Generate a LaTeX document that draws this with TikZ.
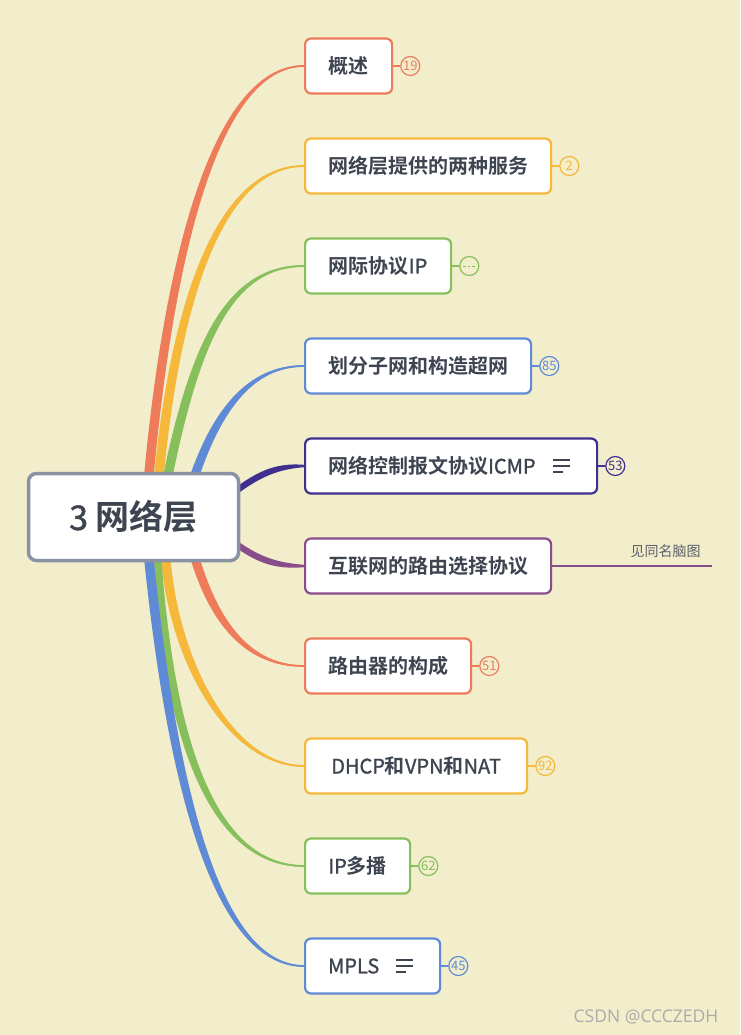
\documentclass[tikz,border=0pt]{standalone}
\usepackage{fontspec}
\setmainfont{Noto Sans CJK SC}[BoldFont={Noto Sans CJK SC Bold}]
\newfontfamily\latfont{Noto Sans CJK SC}[FakeBold=1.2]
\newfontfamily\markfont{Open Sans}
\usepackage{tikz}
\usetikzlibrary{positioning,calc}

\definecolor{bg}{HTML}{F2EDCB}
\definecolor{ink}{HTML}{3E4450}
\definecolor{hubline}{HTML}{8A93A3}
\definecolor{c-orange}{HTML}{EE7C5B}
\definecolor{c-yellow}{HTML}{F5B83A}
\definecolor{c-green}{HTML}{86BF5C}
\definecolor{c-blue}{HTML}{5F8AD5}
\definecolor{c-navy}{HTML}{3F2F8F}
\definecolor{c-plum}{HTML}{8A4D8C}

\newcommand{\lat}[1]{{\latfont\mdseries #1}}

\pgfdeclarelayer{back}
\pgfsetlayers{back,main}

% tapered branch: colour, root offset, end offset, root, c1, c2, target
\newcommand{\branch}[7]{%
	\fill[#1] ($(#4)-(#2)$) .. controls ($(#5)-(#2)$) and ($(#6)-0.6*(#2)-(#3)$) .. ($(#7)-(#3)$)
		-- ($(#7)+(#3)$) .. controls ($(#6)+0.6*(#2)+(#3)$) and ($(#5)+(#2)$) .. ($(#4)+(#2)$) -- cycle;
	\draw[#1, line width=1.3] (#4) .. controls (#5) and (#6) .. (#7);}

\begin{document}
\begin{tikzpicture}[x=1pt, y=-1pt,
		topic/.style={draw, line width=2.2, rounded corners=6, fill=white, text=ink, font=\bfseries\fontsize{20}{24}\selectfont, minimum height=55, inner xsep=23, inner ysep=0, anchor=west},
		badge/.style={draw=#1, text=#1, circle, line width=1.2, fill=bg, minimum size=19, inner sep=0, font=\fontsize{13}{14}\selectfont},
		tick/.style={draw=#1, line width=1.6},
		notes/.style={draw=ink, line width=1.4}]
		\useasboundingbox (0,0) rectangle (740,1035);

		\node (hub) at (133.5,517) [draw=hubline, line width=3.5, rounded corners=8, fill=white, text=ink, minimum width=210, minimum height=87, font=\bfseries\fontsize{34}{40}\selectfont] {\lat{3} 网络层};

		\node (p1) at (304,66) [topic, draw=c-orange, minimum width=87] {概述};
		\node (p2) at (304,166) [topic, draw=c-yellow, minimum width=246] {网络层提供的两种服务};
		\node (p3) at (304,266) [topic, draw=c-green, minimum width=146] {网际协议\lat{IP}};
		\node (p4) at (304,366) [topic, draw=c-blue, minimum width=226] {划分子网和构造超网};
		\node (p5) at (304,466) [topic, draw=c-navy, text width=246, align=left] {网络控制报文协议\lat{ICMP}};
		\node (p6) at (304,566) [topic, draw=c-plum, minimum width=246] {互联网的路由选择协议};
		\node (p7) at (304,666) [topic, draw=c-orange, minimum width=166] {路由器的构成};
		\node (p8) at (304,766) [topic, draw=c-yellow, minimum width=222] {\lat{DHCP}和\lat{VPN}和\lat{NAT}};
		\node (p9) at (304,866) [topic, draw=c-green, minimum width=105] {\lat{IP}多播};
		\node (p10) at (304,966) [topic, draw=c-blue, text width=89, align=left] {\lat{MPLS}};

		% counters
		\node (b1) [badge=c-orange, right=7pt of p1] {19};
		\node (b2) [badge=c-yellow, right=7pt of p2] {2};
		\node (b3) [badge=c-green, right=7pt of p3] {};
		\node (b4) [badge=c-blue, right=7pt of p4] {85};
		\node (b5) [badge=c-navy, right=7pt of p5] {53};
		\node (b7) [badge=c-orange, right=7pt of p7] {51};
		\node (b8) [badge=c-yellow, right=7pt of p8] {92};
		\node (b9) [badge=c-green, right=7pt of p9] {62};
		\node (b10) [badge=c-blue, right=7pt of p10] {45};
		\draw[tick=c-orange] (p1) -- (b1);
		\draw[tick=c-yellow] (p2) -- (b2);
		\draw[tick=c-green] (p3) -- (b3);
		\draw[tick=c-blue] (p4) -- (b4);
		\draw[tick=c-navy] (p5) -- (b5);
		\draw[tick=c-orange] (p7) -- (b7);
		\draw[tick=c-yellow] (p8) -- (b8);
		\draw[tick=c-green] (p9) -- (b9);
		\draw[tick=c-blue] (p10) -- (b10);
		\draw[c-green, line width=0.8, dash pattern=on 2.5pt off 2pt] ($(b3.center)-(6,0)$) -- ($(b3.center)+(6,0)$);

		% notes marks
		\foreach \n in {p5,p10} {
			\draw[notes] ($(\n.east)+(-45,-6)$) -- ++(17,0);
			\draw[notes] ($(\n.east)+(-45,0)$) -- ++(17,0);
			\draw[notes] ($(\n.east)+(-45,6)$) -- ++(10,0);
		}

		% link to other map
		\coordinate (seeend) at (712,566);
		\draw[c-plum, line width=2.5] (p6) -- (seeend) node[pos=0.71, above=4pt, text=ink!85, font=\fontsize{14}{16}\selectfont] {见同名脑图};

		\node (mark) at (646,1017) [text=black!33, font=\markfont\fontsize{17.5}{20}\selectfont] {CSDN @CCCZEDH};

		\begin{pgfonlayer}{back}
			\fill[bg] (0,0) rectangle (740,1035);
			\coordinate (r1) at ($(hub.center)+(14.5,-32)$);
			\coordinate (r2) at ($(hub.center)+(24.5,-32)$);
			\coordinate (r3) at ($(hub.center)+(32.5,-32)$);
			\coordinate (r4) at ($(hub.center)+(56.5,-27)$);
			\coordinate (r5) at ($(hub.center)+(91.5,-17)$);
			\coordinate (r6) at ($(hub.center)+(91.5,18)$);
			\coordinate (r7) at ($(hub.center)+(56.5,23)$);
			\coordinate (r8) at ($(hub.center)+(31.5,33)$);
			\coordinate (r9) at ($(hub.center)+(22.5,33)$);
			\coordinate (r10) at ($(hub.center)+(14.5,33)$);
			\branch{c-orange}{4.8,0}{0,0.9}{r1}{168,260}{215,66}{p1.west}
			\branch{c-yellow}{4.8,0}{0,0.9}{r2}{175,300}{220,166}{p2.west}
			\branch{c-green}{4.8,0}{0,0.9}{r3}{195,340}{230,266}{p3.west}
			\branch{c-blue}{4.8,0}{0,0.9}{r4}{215,410}{250,366}{p4.west}
			\branch{c-navy}{0,3.8}{0,1.2}{r5}{255,475}{275,466}{p5.west}
			\branch{c-plum}{0,3.8}{0,1.2}{r6}{255,560}{275,566}{p6.west}
			\branch{c-orange}{4.8,0}{0,-0.9}{r7}{215,640}{260,666}{p7.west}
			\branch{c-yellow}{4.8,0}{0,-0.9}{r8}{172,660}{230,766}{p8.west}
			\branch{c-green}{4.8,0}{0,-0.9}{r9}{170,760}{220,866}{p9.west}
			\branch{c-blue}{4.8,0}{0,-0.9}{r10}{175,820}{225,966}{p10.west}
		\end{pgfonlayer}
	\end{tikzpicture}
\end{document}
